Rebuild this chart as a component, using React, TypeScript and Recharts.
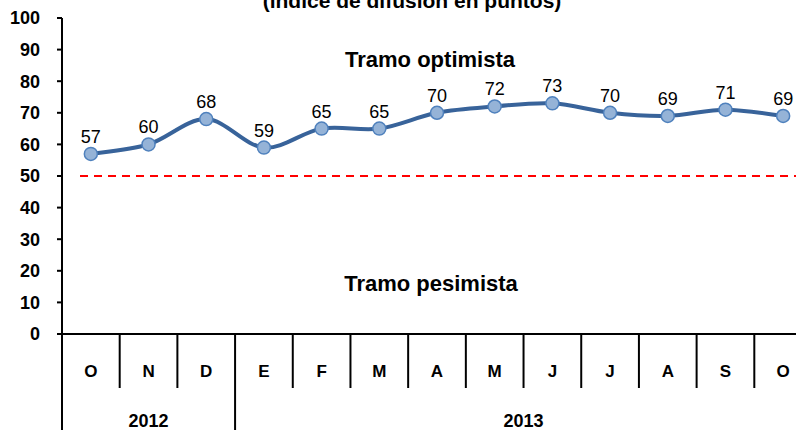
import React from "react";
import { ComposedChart, Line, XAxis, YAxis, ReferenceLine, LabelList } from "recharts";

const months = ["O", "N", "D", "E", "F", "M", "A", "M", "J", "J", "A", "S", "O"];
const difusion = [57, 60, 68, 59, 65, 65, 70, 72, 73, 70, 69, 71, 69];
const years = ["2012", "2013"];
const yearStart = [0, 3];
const yearSpan = [3, 10];
const yTicks = [0, 10, 20, 30, 40, 50, 60, 70, 80, 90, 100];
const umbral = 50;

const FONT = "'Liberation Sans', Arial, sans-serif";
const CHART_W = 830;
const Y_AXIS_W = 62;
const RIGHT = 18;
const BAND = (CHART_W - Y_AXIS_W - RIGHT) / months.length;

const data = months.map((mes, i) => ({ mes, valor: difusion[i] }));

// smoothing close to Excel's "smoothed line" (Catmull-Rom through the points)
const excelSmooth = (ctx: any) => {
  let pts: number[][] = [];
  return {
    areaStart() {},
    areaEnd() {},
    lineStart() {
      pts = [];
    },
    point(x: number, y: number) {
      pts.push([+x, +y]);
    },
    lineEnd() {
      if (!pts.length) return;
      ctx.moveTo(pts[0][0], pts[0][1]);
      for (let i = 0; i < pts.length - 1; i++) {
        const p0 = pts[Math.max(i - 1, 0)];
        const p1 = pts[i];
        const p2 = pts[i + 1];
        const p3 = pts[Math.min(i + 2, pts.length - 1)];
        ctx.bezierCurveTo(
          p1[0] + (p2[0] - p0[0]) / 6,
          p1[1] + (p2[1] - p0[1]) / 6,
          p2[0] - (p3[0] - p1[0]) / 6,
          p2[1] - (p3[1] - p1[1]) / 6,
          p2[0],
          p2[1]
        );
      }
    },
  };
};

const MonthTick = (props: any) => {
  const { x, y, payload, index } = props;
  const left = x - BAND / 2;
  const g = yearStart.indexOf(index);
  const last = index === months.length - 1;
  return (
    <g>
      <line x1={left} y1={y} x2={left} y2={y + (g >= 0 ? 96 : 54)} stroke="#000" strokeWidth={2} />
      {last && <line x1={x + BAND / 2} y1={y} x2={x + BAND / 2} y2={y + 96} stroke="#000" strokeWidth={2} />}
      <text x={x} y={y + 43} textAnchor="middle" fontSize={17} fontWeight="bold" fontFamily={FONT} fill="#000">
        {payload.value}
      </text>
      {g >= 0 && (
        <text
          x={left + (yearSpan[g] * BAND) / 2}
          y={y + 93}
          textAnchor="middle"
          fontSize={18}
          fontWeight="bold"
          fontFamily={FONT}
          fill="#000"
        >
          {years[g]}
        </text>
      )}
    </g>
  );
};

const DashedLimit = (p: any) => (
  <line x1={p.x1 + 18} y1={p.y1} x2={p.x2} y2={p.y2} stroke="#FF0000" strokeWidth={2} strokeDasharray="8 6" />
);

const label = (top: number, left: number, size: number, text: string) => (
  <div
    style={{
      position: "absolute",
      top,
      left,
      transform: "translateX(-50%)",
      fontSize: size,
      lineHeight: `${size}px`,
      fontWeight: "bold",
      whiteSpace: "nowrap",
      color: "#000",
    }}
  >
    {text}
  </div>
);

export default function App() {
  return (
    <div
      style={{
        position: "absolute",
        left: 0,
        top: 0,
        width: 796,
        height: 430,
        overflow: "hidden",
        background: "#fff",
        fontFamily: FONT,
      }}
    >
      <ComposedChart width={CHART_W} height={430} data={data} margin={{ top: 18, right: RIGHT, left: 0, bottom: 0 }}>
        <XAxis
          dataKey="mes"
          padding={{ left: BAND / 2, right: BAND / 2 }}
          height={96}
          interval={0}
          tickLine={false}
          tickSize={0}
          tickMargin={0}
          axisLine={{ stroke: "#000", strokeWidth: 2 }}
          tick={MonthTick}
        />
        <YAxis
          width={Y_AXIS_W}
          domain={[0, 100]}
          ticks={yTicks}
          interval={0}
          tickSize={5}
          tickMargin={17}
          axisLine={{ stroke: "#000", strokeWidth: 2 }}
          tickLine={{ stroke: "#000", strokeWidth: 2 }}
          tick={{ fontSize: 18, fontWeight: "bold", fill: "#000", fontFamily: FONT }}
        />
        <ReferenceLine y={umbral} shape={DashedLimit} />
        <Line
          dataKey="valor"
          type={excelSmooth as any}
          stroke="#38639A"
          strokeWidth={4}
          dot={{ r: 6.5, fill: "#95B3D7", stroke: "#4F81BD", strokeWidth: 1.5 }}
          activeDot={false}
          isAnimationActive={false}
        >
          <LabelList dataKey="valor" position="top" offset={11} fontSize={18} fill="#000" fontFamily={FONT} />
        </Line>
      </ComposedChart>
      {label(-10, 412, 21, "(índice de difusión en puntos)")}
      {label(49, 430, 22, "Tramo optimista")}
      {label(273, 431, 22, "Tramo pesimista")}
    </div>
  );
}
